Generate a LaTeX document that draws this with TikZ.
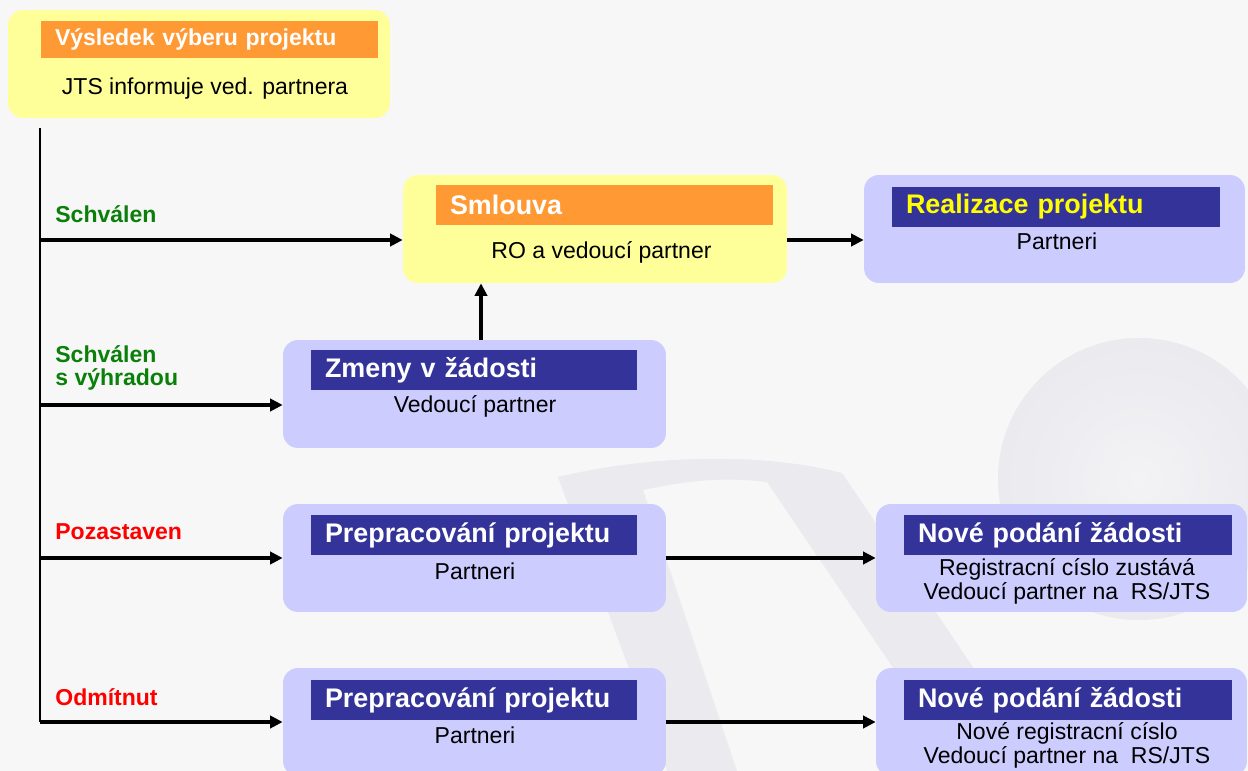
\documentclass[tikz,border=0pt]{standalone}
\usepackage{fontspec}
\setmainfont{Liberation Sans}
\usepackage{tikz}
\usetikzlibrary{positioning,arrows.meta,calc}
\definecolor{cBack}{HTML}{F7F7F7}
\definecolor{cMark}{HTML}{EAEAEF}
\definecolor{cMarkLt}{HTML}{F3F3F5}
\definecolor{cYellow}{HTML}{FFFF99}
\definecolor{cOrange}{HTML}{FF9933}
\definecolor{cLav}{HTML}{CCCCFF}
\definecolor{cNavy}{HTML}{333399}
\definecolor{cHead}{HTML}{FFFF00}
\definecolor{cGreen}{HTML}{0A800A}
\definecolor{cRed}{HTML}{FF0000}
\newcommand{\fbody}{\fontsize{13.1pt}{12.2pt}\selectfont}
\newcommand{\fhead}{\fontsize{15.3pt}{17pt}\selectfont\bfseries}
\newcommand{\fsubhead}{\fontsize{13.1pt}{15pt}\selectfont\bfseries}
\newcommand{\flbl}{\fontsize{13.1pt}{13.1pt}\selectfont\bfseries}

\begin{document}
\begin{tikzpicture}[x=0.02cm,y=-0.02cm,
    ybox/.style={fill=cYellow,rounded corners=0.3cm,minimum width=7.66cm,
                 minimum height=2.16cm,inner sep=0pt},
    lbox/.style={ybox,fill=cLav},
    hbar/.style={minimum height=0.8cm,inner xsep=0.28cm,inner ysep=0pt,
                 align=left,font=\fhead,text=white},
    obar/.style={hbar,fill=cOrange},
    nbar/.style={hbar,fill=cNavy},
    txt/.style={font=\fbody,align=center,inner sep=0pt},
    lbl/.style={font=\flbl,align=left,anchor=west,inner sep=0pt},
    arr/.style={-{Triangle[length=7.2pt,width=7pt]},line width=1.8pt},
    spine/.style={line width=0.8pt}]
    \useasboundingbox (0,0) rectangle (1248,771);
    \fill[cBack] (0,0) rectangle (1248,771);
    \shade[inner color=cMarkLt,outer color=cMark] (1139,479) circle (141);
    \fill[cMark] (667,771) -- (558,477) .. controls (650,455) and (760,452) .. (842,473)
      -- (995,700) -- (915,700) -- (767,482) .. controls (720,476) and (680,482) .. (643,490)
      -- (737,771) -- cycle;

    \node[ybox,minimum width=7.64cm] (vysl) at (199,64) {};
    \node[obar,font=\fsubhead,minimum height=0.74cm,text width=6.18cm] (vyslH) at (209.5,39.5)
      {Výsledek výberu projektu};
    \node[txt] (vyslT) at (205,89) {JTS informuje ved. partnera};

    \node[ybox,minimum width=7.68cm] (sml) at (595,229) {};
    \node[obar,text width=6.18cm] (smlH) at (604.5,205) {Smlouva};
    \node[txt] (smlT) at (601.5,252) {RO a vedoucí partner};

    \node[lbox,minimum width=7.62cm] (real) at (1054.5,229) {};
    \node[nbar,text=cHead,text width=6.0cm] (realH) at (1056,206.5) {Realizace projektu};
    \node[txt] (realT) at (1057,241) {Partneri};

    \node[lbox] (zmeny) at (474.5,394) {};
    \node[nbar,text width=5.96cm] (zmenyH) at (474,370) {Zmeny v žádosti};
    \node[txt] (zmenyT) at (475,406.5) {Vedoucí partner};

    \node[lbox] (prepA) at (474.5,558) {};
    \node[nbar,text width=5.96cm] (prepAH) at (474,535) {Prepracování projektu};
    \node[txt] (prepAT) at (475,571) {Partneri};

    \node[lbox,minimum width=7.42cm] (novA) at (1061.5,558) {};
    \node[nbar,text width=6.0cm] (novAH) at (1068,535) {Nové podání žádosti};
    \node[txt] (novAT) at (1067,581.5) {Registracní císlo zustává\\Vedoucí partner na~~RS/JTS};

    \node[lbox] (prepB) at (474.5,722) {};
    \node[nbar,text width=5.96cm] (prepBH) at (474,700) {Prepracování projektu};
    \node[txt] (prepBT) at (475,735) {Partneri};

    \node[lbox,minimum width=7.42cm] (novB) at (1061.5,722) {};
    \node[nbar,text width=6.0cm] (novBH) at (1068,700) {Nové podání žádosti};
    \node[txt] (novBT) at (1067,745.5) {Nové registracní císlo\\Vedoucí partner na~~RS/JTS};

    \node[lbl,text=cGreen] (lSchv) at (55,214) {Schválen};
    \node[lbl,text=cGreen] (lVyhr) at (55,367.5) {Schválen\\s výhradou};
    \node[lbl,text=cRed] (lPoz) at (55,532) {Pozastaven};
    \node[lbl,text=cRed] (lOdm) at (55,697) {Odmítnut};

    \coordinate (top) at (40,128);
    \coordinate (bSchv) at (40,240);
    \coordinate (bVyhr) at (40,405);
    \coordinate (bPoz) at (40,558);
    \coordinate (bOdm) at (40,722);
    \coordinate (up) at (481,340);
    \draw[spine] (top) -- (bOdm);
    \draw[arr] (bSchv) -- (bSchv -| sml.west);
    \draw[arr] (bVyhr) -- (bVyhr -| zmeny.west);
    \draw[arr] (bPoz) -- (bPoz -| prepA.west);
    \draw[arr] (bOdm) -- (bOdm -| prepB.west);
    \draw[arr] (up) -- (up |- sml.south);
    \draw[arr] (bSchv -| sml.east) -- (bSchv -| real.west);
    \draw[arr] (prepA.east) -- (prepA.east -| novA.west);
    \draw[arr] (prepB.east) -- (prepB.east -| novB.west);
  \end{tikzpicture}
\end{document}
